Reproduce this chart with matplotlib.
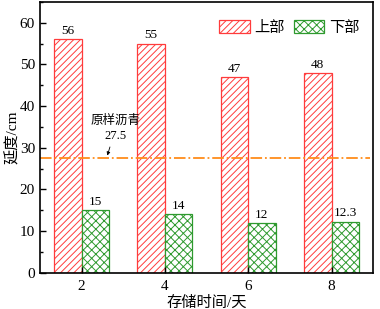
import matplotlib.pyplot as plt
import numpy as np
from matplotlib.ticker import MultipleLocator

plt.rcParams['font.family'] = ['Liberation Serif', 'Noto Sans CJK SC']
plt.rcParams['hatch.linewidth'] = 0.7

days = [2, 4, 6, 8]
upper = [56, 55, 47, 48]
lower = [15, 14, 12, 12.3]
upper_labels = ['56', '55', '47', '48']
lower_labels = ['15', '14', '12', '12.3']
base_value = 27.5

red = '#ff3b3b'
green = '#2e9a2e'
w = 0.66

fig = plt.figure(figsize=(3.8, 3.09), dpi=100)
ax = fig.add_axes([0.105, 0.117, 0.877, 0.877])

x = np.array(days)
ax.bar(x - w / 2, upper, w, facecolor='white', edgecolor=red, hatch='/////', linewidth=0.9, label='上部')
ax.bar(x + w / 2, lower, w, facecolor='white', edgecolor=green, hatch='xxxx', linewidth=0.9, label='下部')

for xi, v, t in zip(x, upper, upper_labels):
    ax.text(xi - w / 2, v + 0.5, t, ha='center', va='bottom', fontsize=9.5)
for xi, v, t in zip(x, lower, lower_labels):
    ax.text(xi + w / 2, v + 0.5, t, ha='center', va='bottom', fontsize=9.5)

ax.axhline(base_value, color='#ff8c1a', linestyle='-.', linewidth=1.3, xmin=0.0, xmax=0.99)
ax.annotate('原样沥青\n27.5', xy=(2.6, base_value), xytext=(2.82, 31.5),
            ha='center', va='bottom', fontsize=9, linespacing=1.35,
            arrowprops=dict(arrowstyle='-|>', color='k', lw=0.6, mutation_scale=5))

ax.set_xlim(1, 9)
ax.set_ylim(0, 65)
ax.set_xticks(days)
ax.yaxis.set_major_locator(MultipleLocator(10))
ax.yaxis.set_minor_locator(MultipleLocator(5))
ax.tick_params(axis='both', direction='in', labelsize=11, width=1, length=4)
ax.tick_params(axis='y', which='minor', direction='in', length=2.5, width=1)
ax.tick_params(axis='x', pad=5)

ax.set_xlabel('存储时间/天', fontsize=11, labelpad=2)
ax.set_ylabel('延度/cm', fontsize=11, va='center')
ax.yaxis.set_label_coords(-0.082, 0.5)

for s in ax.spines.values():
    s.set_linewidth(1.2)

ax.legend(loc='upper right', bbox_to_anchor=(1.0, 0.985), ncol=2, frameon=False, fontsize=11,
          handlelength=2.0, handleheight=1.0, columnspacing=0.6, handletextpad=0.3)

fig.savefig('out.png', dpi=100)
